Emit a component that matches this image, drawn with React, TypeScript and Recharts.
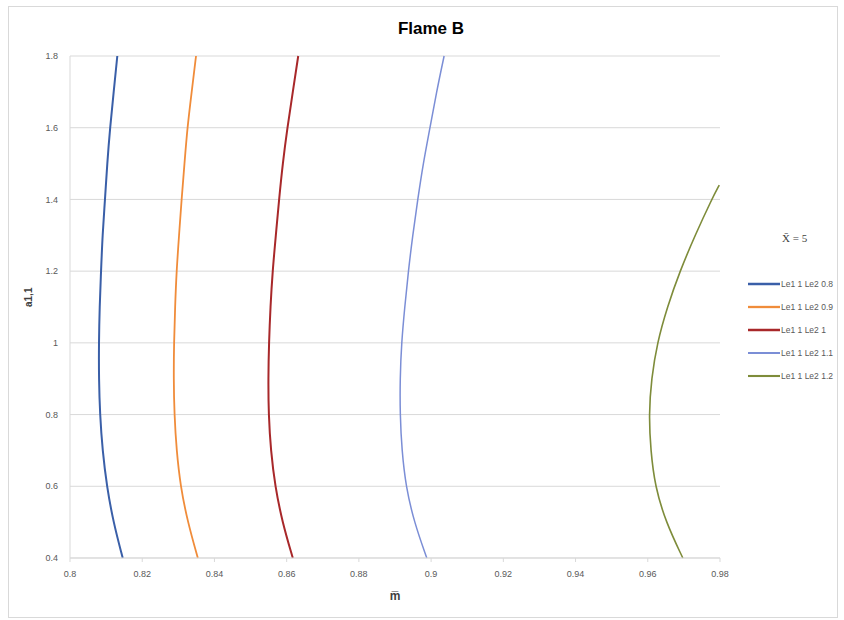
import { LineChart, Line, XAxis, YAxis, CartesianGrid, Legend } from "recharts"

// vertical position a1,1 (rows read top to bottom)
const aLevels = [1.8, 1.7, 1.6, 1.5, 1.4, 1.3, 1.2, 1.1, 1, 0.9, 0.8, 0.7, 0.6, 0.5, 0.4]
const aLevelsLe12 = [1.44, 1.4, 1.3, 1.2, 1.1, 1, 0.9, 0.8, 0.7, 0.6, 0.5, 0.4]

// m-bar at those levels
const le2_08 = [0.8131, 0.8121, 0.8111, 0.8103, 0.8097, 0.809, 0.8086, 0.8082, 0.808, 0.808, 0.8083, 0.809, 0.8102, 0.812, 0.8146]
const le2_09 = [0.8349, 0.8337, 0.8325, 0.8317, 0.8309, 0.8302, 0.8295, 0.8291, 0.8288, 0.8287, 0.8289, 0.8295, 0.8306, 0.8326, 0.8354]
const le2_10 = [0.8632, 0.8617, 0.8602, 0.8589, 0.8579, 0.857, 0.8561, 0.8555, 0.8551, 0.8549, 0.855, 0.8556, 0.8568, 0.8588, 0.8617]
const le2_11 = [0.9036, 0.9015, 0.8997, 0.8978, 0.8963, 0.8949, 0.8937, 0.8927, 0.8918, 0.8914, 0.8914, 0.8919, 0.893, 0.8953, 0.8988]
const le2_12 = [0.9798, 0.9777, 0.9731, 0.9689, 0.9654, 0.9626, 0.961, 0.9603, 0.9608, 0.962, 0.965, 0.9697]

const xTicks = [0.8, 0.82, 0.84, 0.86, 0.88, 0.9, 0.92, 0.94, 0.96, 0.98]
const yTicks = [0.4, 0.6, 0.8, 1, 1.2, 1.4, 1.6, 1.8]

const series = [
  { name: "Le1 1 Le2 0.8", levels: aLevels, values: le2_08, color: "#3A5FA8", width: 2 },
  { name: "Le1 1 Le2 0.9", levels: aLevels, values: le2_09, color: "#F08C3A", width: 1.8 },
  { name: "Le1 1 Le2 1", levels: aLevels, values: le2_10, color: "#A8282A", width: 2 },
  { name: "Le1 1 Le2 1.1", levels: aLevels, values: le2_11, color: "#7B8ED6", width: 1.5 },
  { name: "Le1 1 Le2 1.2", levels: aLevelsLe12, values: le2_12, color: "#7E8C3A", width: 1.6 },
]

const font = "'Liberation Sans', Arial, sans-serif"

function LegendBox({ payload }: any) {
  return (
    <div style={{ fontFamily: font, color: "#595959" }}>
      <div style={{ fontFamily: "'Liberation Serif', serif", fontSize: 11, color: "#404040", marginLeft: 34, height: 40 }}>
        X̄ = 5
      </div>
      {(payload || []).map((p: any) => {
        const s = series.find((d) => d.name === p.value)
        return (
          <div key={p.value} style={{ display: "flex", alignItems: "center", height: 23, whiteSpace: "nowrap" }}>
            <svg width={32} height={6}>
              <line x1={0} y1={3} x2={32} y2={3} stroke={p.color} strokeWidth={s ? s.width + 0.5 : 2} />
            </svg>
            <span style={{ fontSize: 8.5, marginLeft: 1 }}>{p.value}</span>
          </div>
        )
      })}
    </div>
  )
}

export default function App() {
  return (
    <div style={{ position: "absolute", left: 0, top: 0, width: 844, height: 620, background: "#fff", overflow: "hidden" }}>
      <div style={{ position: "absolute", left: 8, top: 6, width: 828, height: 610, border: "1px solid #d9d9d9" }} />
      <div
        style={{
          position: "absolute",
          left: 0,
          width: 862,
          top: 19,
          textAlign: "center",
          fontFamily: font,
          fontWeight: "bold",
          fontSize: 17,
          color: "#000",
        }}
      >
        Flame B
      </div>
      <div style={{ position: "absolute", left: 0, top: 0 }}>
        <LineChart width={844} height={620} layout="vertical" margin={{ top: 56, right: 124, bottom: 20, left: 0 }}>
          <CartesianGrid horizontal={true} vertical={false} stroke="#d9d9d9" />
          <XAxis
            type="number"
            domain={[0.8, 0.98]}
            ticks={xTicks}
            height={42}
            stroke="#d9d9d9"
            tickSize={4}
            tickMargin={9}
            tick={{ fill: "#595959", fontSize: 9, fontFamily: font }}
            tickFormatter={(v) => String(v)}
            label={{ value: "m\u0305", position: "insideBottom", offset: 0, fill: "#404040", fontSize: 12, fontWeight: "bold", fontFamily: font }}
          />
          <YAxis
            type="number"
            dataKey="a"
            domain={[0.4, 1.8]}
            ticks={yTicks}
            reversed
            width={70}
            stroke="#d9d9d9"
            tickLine={false}
            tickSize={0}
            tickMargin={12}
            tick={{ fill: "#595959", fontSize: 9, fontFamily: font }}
            tickFormatter={(v) => String(v)}
            label={{ value: "a1,1", angle: -90, position: "insideLeft", offset: 28, fill: "#404040", fontSize: 10, fontWeight: "bold", fontFamily: font }}
          />
          <Legend
            layout="vertical"
            align="center"
            verticalAlign="middle"
            wrapperStyle={{ left: 748, top: 232, width: 96 }}
            content={<LegendBox />}
          />
          {series.map((s) => (
            <Line
              key={s.name}
              name={s.name}
              data={s.levels.map((a, i) => ({ a, m: s.values[i] }))}
              dataKey="m"
              type="basis"
              stroke={s.color}
              strokeWidth={s.width}
              dot={false}
              activeDot={false}
              isAnimationActive={false}
            />
          ))}
        </LineChart>
      </div>
    </div>
  )
}
